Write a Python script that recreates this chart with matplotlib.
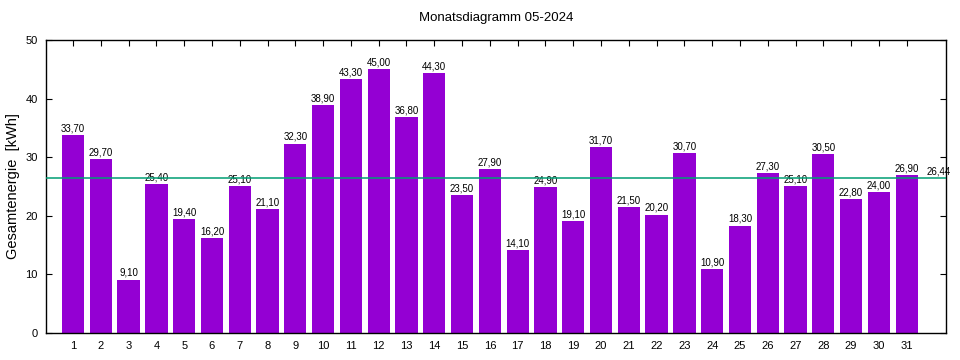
"""Monthly energy bar chart (gnuplot look) saved as out.png"""

import matplotlib

matplotlib.use("Agg")
import matplotlib.pyplot as plt

days = list(range(1, 32))
energy = [
    33.7, 29.7, 9.1, 25.4, 19.4, 16.2, 25.1, 21.1, 32.3, 38.9, 43.3,
    45.0, 36.8, 44.3, 23.5, 27.9, 14.1, 24.9, 19.1, 31.7, 21.5, 20.2,
    30.7, 10.9, 18.3, 27.3, 25.1, 30.5, 22.8, 24.0, 26.9,
]
average = 26.44
title = "Monatsdiagramm 05-2024"
ylabel = "Gesamtenergie  [kWh]"


def de(value: float) -> str:
    return f"{value:.2f}".replace(".", ",")


plt.rcParams["font.family"] = ["Liberation Sans", "DejaVu Sans"]

fig = plt.figure(figsize=(9.6, 3.6), dpi=100)
ax = fig.add_axes([0.048, 0.075, 0.937, 0.814])

bars = ax.bar(days, energy, width=0.8, color="#9400d3", zorder=2)
for day, val in zip(days, energy):
    ax.text(day, val + 0.3, de(val), ha="center", va="bottom", fontsize=7)

# Average line with its label at the right end
ax.axhline(average, color="#009e73", linewidth=1.1, zorder=3)
ax.text(days[-1] + 0.7, average + 0.3, de(average), ha="left", va="bottom", fontsize=7)

ax.set_xlim(0.03, 32.4)
ax.set_ylim(0, 50)
ax.set_xticks(days)
ax.set_yticks([0, 10, 20, 30, 40, 50])
ax.tick_params(direction="in", top=True, right=True, labelsize=8, length=4, pad=6)
for spine in ax.spines.values():
    spine.set_linewidth(1.0)

ax.set_title(title, fontsize=9.5, pad=14)
ax.set_ylabel(ylabel, fontsize=10.5, labelpad=4)

fig.savefig("out.png", dpi=100)
